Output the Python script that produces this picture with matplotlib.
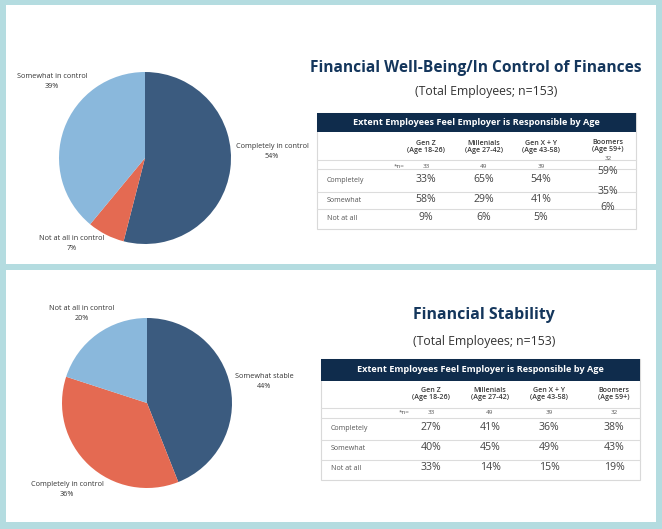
import matplotlib

matplotlib.use("Agg")

import matplotlib.pyplot as plt
from matplotlib.patches import Rectangle

plt.rcParams["font.family"] = ["Open Sans", "DejaVu Sans"]

W, H = 662, 529

# pie data
WELLBEING_LABELS = ["Completely in control", "Not at all in control", "Somewhat in control"]
WELLBEING_PCT = [54, 7, 39]
STABILITY_LABELS = ["Somewhat stable", "Completely in control", "Not at all in control"]
STABILITY_PCT = [44, 36, 20]

# table data
AGE_GROUPS = ["Gen Z\n(Age 18-26)", "Millenials\n(Age 27-42)", "Gen X + Y\n(Age 43-58)", "Boomers\n(Age 59+)"]
GROUP_N = [33, 49, 39, 32]
ROW_LABELS = ["Completely", "Somewhat", "Not at all"]
WELLBEING_TABLE = [[33, 65, 54, 59], [58, 29, 41, 35], [9, 6, 5, 6]]
STABILITY_TABLE = [[27, 41, 36, 38], [40, 45, 49, 43], [33, 14, 15, 19]]

TABLE_TITLE = "Extent Employees Feel Employer is Responsible by Age"

DARK = "#3b5b7f"
ORANGE = "#e46a52"
LIGHT = "#8ab8dc"
NAVY = "#0f2c4c"
TITLE_NAVY = "#14365c"
BORDER = "#b4dce0"


def px_axes(fig, cx, cy, r):
    return fig.add_axes([(cx - r) / W, (H - cy - r) / H, 2 * r / W, 2 * r / H])


def draw_pie(fig, cx, cy, r, values, colors):
    ax = px_axes(fig, cx, cy, r)
    ax.pie(values, colors=colors, startangle=90, counterclock=False, radius=1,
           wedgeprops={"linewidth": 0})
    ax.set_xlim(-1, 1)
    ax.set_ylim(-1, 1)
    ax.set_aspect("equal")
    ax.axis("off")


def draw_table(ax, x0, x1, band, hlines, col_x, label_x, n_x, n_y, row_y, head_y,
               values, shift=None):
    ax.add_patch(Rectangle((x0, band[0]), x1 - x0, hlines[-1] - band[0],
                           facecolor="white", edgecolor="#d9d9d9", lw=0.8))
    ax.add_patch(Rectangle((x0, band[0]), x1 - x0, band[1] - band[0],
                           facecolor=NAVY, edgecolor="none"))
    ax.text((x0 + x1) / 2, (band[0] + band[1]) / 2, TABLE_TITLE, color="white",
            fontsize=6.6, fontweight="bold", ha="center", va="center")
    for y in hlines[:-1]:
        ax.plot([x0, x1], [y, y], color="#dcdcdc", lw=0.8)
    shift = shift or {}
    for j, (x, grp) in enumerate(zip(col_x, AGE_GROUPS)):
        hy = head_y + shift.get("head", [0] * 4)[j]
        ax.text(x, hy, grp, fontsize=5.1, fontweight="semibold", color="#3a3a3a",
                ha="center", va="center", linespacing=1.15)
        ny = n_y + shift.get("n", [0] * 4)[j]
        ax.text(x, ny, str(GROUP_N[j]), fontsize=4.5, color="#555555",
                ha="center", va="center")
    ax.text(n_x, n_y, "*n=", fontsize=4.5, color="#555555", ha="center", va="center")
    for i, lab in enumerate(ROW_LABELS):
        ax.text(label_x, row_y[i] + 1, lab, fontsize=5.1, color="#555555",
                ha="left", va="center")
        for j, x in enumerate(col_x):
            vy = row_y[i] + shift.get("val", [[0] * 4] * 3)[i][j]
            ax.text(x, vy, f"{values[i][j]}%", fontsize=7.6, color="#444444",
                    ha="center", va="center")


fig = plt.figure(figsize=(W / 100, H / 100), dpi=100)
fig.patch.set_facecolor(BORDER)
bg = fig.add_axes([0, 0, 1, 1])
bg.set_xlim(0, W)
bg.set_ylim(H, 0)
bg.axis("off")

# two white panels
bg.add_patch(Rectangle((6, 5), 650, 259, facecolor="white", edgecolor="none"))
bg.add_patch(Rectangle((6, 270), 650, 252, facecolor="white", edgecolor="none"))

# top panel
draw_pie(fig, 145, 158, 86, WELLBEING_PCT, [DARK, ORANGE, LIGHT])
top_lab_pos = [(272, 152), (72, 244), (52, 81)]
for (x, y), lab, v in zip(top_lab_pos, WELLBEING_LABELS, WELLBEING_PCT):
    bg.text(x, y, f"{lab}\n{v}%", fontsize=5.2, color="#333333", ha="center",
            va="center", linespacing=1.6)

bg.text(476, 68, "Financial Well-Being/In Control of Finances", fontsize=11.2,
        fontweight="bold", color=TITLE_NAVY, ha="center", va="center")
bg.text(486, 91, "(Total Employees; n=153)", fontsize=8.8, color="#333333",
        ha="center", va="center")

draw_table(bg, 317, 636, (113, 132), [160, 169, 192, 209, 229],
           [426, 484, 541, 608], 327, 399, 166, [180, 199, 217], 147,
           WELLBEING_TABLE,
           shift={"head": [0, 0, 0, -1], "n": [0, 0, 0, -7],
                  "val": [[0, 0, 0, -8], [0, 0, 0, -7], [0, 0, 0, -9]]})

# bottom panel
draw_pie(fig, 147, 403, 85, STABILITY_PCT, [DARK, ORANGE, LIGHT])
bot_lab_pos = [(264, 381), (67, 489), (82, 313)]
for (x, y), lab, v in zip(bot_lab_pos, STABILITY_LABELS, STABILITY_PCT):
    bg.text(x, y, f"{lab}\n{v}%", fontsize=5.2, color="#333333", ha="center",
            va="center", linespacing=1.6)

bg.text(484, 315, "Financial Stability", fontsize=11.4, fontweight="bold",
        color=TITLE_NAVY, ha="center", va="center")
bg.text(484, 342, "(Total Employees; n=153)", fontsize=8.8, color="#333333",
        ha="center", va="center")

draw_table(bg, 321, 640, (359, 381), [408, 418, 440, 460, 480],
           [431, 490, 549, 614], 331, 404, 412, [428, 448, 468], 394,
           STABILITY_TABLE)

fig.savefig("out.png", dpi=100, facecolor=fig.get_facecolor())
